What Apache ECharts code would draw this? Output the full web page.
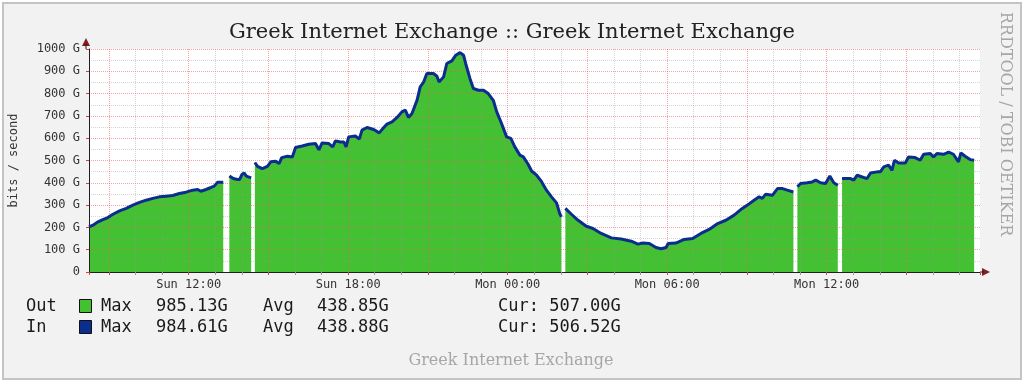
<!DOCTYPE html>
<html>
<head>
<meta charset="utf-8">
<script src="https://cdn.jsdelivr.net/npm/echarts@6/dist/echarts.min.js"></script>
<style>
  html, body { margin: 0; padding: 0; background: #ffffff; }
  #chart { width: 1024px; height: 384px; }
</style>
</head>
<body>
<div id="chart"></div>
<script>
// ---- data (hours since Sun 00:00, values in G bits/s; null = no data) ----
const times = [
  8.25, 8.40, 8.59, 8.77, 8.96, 9.15, 9.40, 9.65, 9.90, 10.15, 10.40, 10.65, 10.90, 11.15, 11.40, 11.65, 11.90, 12.15, 12.34, 12.46, 12.65, 12.84, 12.96, 13.09, 13.30,
  13.40,
  13.53, 13.68, 13.84, 13.92, 14.00, 14.09, 14.17, 14.35,
  14.43,
  14.49, 14.59, 14.77, 14.96, 15.09, 15.27, 15.40, 15.50, 15.71, 15.90, 16.02, 16.27, 16.52, 16.77, 16.90, 17.02, 17.27, 17.42, 17.52, 17.71, 17.84, 17.92,
  18.02, 18.27, 18.42, 18.52, 18.71, 18.96, 19.17, 19.34, 19.46, 19.65, 19.84, 20.02, 20.15, 20.27, 20.40, 20.59, 20.71, 20.84, 20.96, 21.21, 21.34, 21.42,
  21.59, 21.71, 21.90, 22.05, 22.21, 22.34, 22.42, 22.58, 22.71, 22.90, 23.09, 23.27, 23.46, 23.59, 23.77, 23.96, 24.12, 24.27, 24.46, 24.59, 24.77, 24.90,
  25.09, 25.27, 25.46, 25.65, 25.84, 25.96, 26.02,
  26.09,
  26.17, 26.40, 26.65, 26.96, 27.21, 27.52, 27.90, 28.27, 28.65, 28.90, 29.09, 29.33, 29.58, 29.77, 29.96, 30.04, 30.33, 30.64, 30.96, 31.27, 31.58, 31.90,
  32.21, 32.52, 32.77, 33.02, 33.27, 33.46, 33.58, 33.71, 33.96, 34.15, 34.34, 34.52, 34.75,
  34.82,
  34.90, 35.02, 35.27, 35.46, 35.59, 35.77, 35.96, 36.12, 36.27, 36.42,
  36.50,
  36.58, 36.90, 37.02, 37.15, 37.34, 37.52, 37.65, 37.90, 38.02, 38.15, 38.33, 38.46, 38.55, 38.71, 38.96, 39.08, 39.33, 39.52, 39.65, 39.90, 40.02, 40.15,
  40.40, 40.59, 40.77, 40.96, 41.05, 41.21, 41.40, 41.55
];
const outValues = [
  202, 210, 225, 235, 244, 259, 274, 285, 300, 312, 322, 330, 337, 340, 343, 352, 358, 367, 370, 362, 370, 379, 385, 403, 403,
  null,
  431, 419, 415, 415, 437, 444, 430, 422,
  null,
  491, 474, 464, 474, 494, 497, 486, 513, 519, 516, 558, 565, 573, 576, 548, 579, 576, 561, 588, 583, 583, 561,
  606, 610, 596, 636, 648, 639, 624, 648, 663, 673, 693, 718, 726, 693, 711, 770, 830, 852, 890, 890, 878, 852,
  875, 935, 947, 972, 985, 972, 935, 868, 823, 815, 815, 800, 770, 718, 666, 606, 599, 561, 524, 516, 483, 453,
  434, 406, 367, 337, 310, 262, 247,
  null,
  285, 259, 232, 205, 195, 173, 153, 148, 138, 125, 130, 128, 110, 104, 110, 128, 130, 146, 150, 173, 191, 217,
  232, 255, 280, 300, 322, 337, 330, 349, 344, 374, 374, 367, 359,
  null,
  382, 397, 400, 404, 412, 400, 397, 430, 400, 389,
  null,
  419, 419, 412, 434, 426, 419, 444, 449, 449, 471, 479, 456, 501, 489, 489, 516, 513, 501, 528, 531, 516, 531,
  528, 538, 528, 494, 534, 519, 504, 501
];
const inValues = [
  202, 210, 225, 235, 244, 259, 274, 285, 300, 312, 322, 330, 337, 340, 343, 352, 358, 367, 370, 362, 370, 379, 385, 403, 403,
  null,
  431, 419, 415, 415, 437, 444, 430, 422,
  null,
  491, 474, 464, 474, 494, 497, 486, 513, 519, 516, 558, 565, 573, 576, 548, 579, 576, 561, 588, 583, 583, 561,
  606, 610, 596, 636, 648, 639, 624, 648, 663, 673, 693, 718, 726, 693, 711, 770, 830, 852, 890, 890, 878, 852,
  875, 935, 947, 972, 984, 972, 935, 868, 823, 815, 815, 800, 770, 718, 666, 606, 599, 561, 524, 516, 483, 453,
  434, 406, 367, 337, 310, 262, 247,
  null,
  285, 259, 232, 205, 195, 173, 153, 148, 138, 125, 130, 128, 110, 104, 110, 128, 130, 146, 150, 173, 191, 217,
  232, 255, 280, 300, 322, 337, 330, 349, 344, 374, 374, 367, 359,
  null,
  382, 397, 400, 404, 412, 400, 397, 430, 400, 389,
  null,
  419, 419, 412, 434, 426, 419, 444, 449, 449, 471, 479, 456, 501, 489, 489, 516, 513, 501, 528, 531, 516, 531,
  528, 538, 528, 494, 534, 519, 504, 501
];
const xLabelHours = [12, 18, 24, 30, 36];
const xLabelTexts = ['Sun 12:00', 'Sun 18:00', 'Mon 00:00', 'Mon 06:00', 'Mon 12:00'];
const seriesNames = ['Out', 'In'];
const maxStats = ['985.13G', '984.61G'];
const avgStats = ['438.85G', '438.88G'];
const curStats = ['507.00G', '506.52G'];

const X_MIN = 8.25, X_MAX = 41.77;
const GREEN = '#44c133', BLUE = '#0b2e8e';
const MGRID = 'rgba(235,90,90,0.55)', GRID = 'rgba(150,150,150,0.4)';
const MONO = 'DejaVu Sans Mono';
const SERIF = 'DejaVu Serif';

const outData = times.map((t, i) => [t, outValues[i]]);
const inData = times.map((t, i) => [t, inValues[i]]);

const chart = echarts.init(document.getElementById('chart'), null, { renderer: 'canvas' });

const legendGraphics = [];
seriesNames.forEach((name, i) => {
  const y = 307 + i * 21;
  const style = { font: '17px "' + MONO + '"', fill: '#1a1a1a', textVerticalAlign: 'middle' };
  legendGraphics.push({ type: 'text', left: 26, top: y - 9, style: Object.assign({ text: name }, style) });
  legendGraphics.push({ type: 'rect', shape: { x: 79.5, y: y - 7.5, width: 12, height: 13 },
    style: { fill: i === 0 ? GREEN : BLUE, stroke: '#111', lineWidth: 1 } });
  legendGraphics.push({ type: 'text', left: 101, top: y - 9, style: Object.assign({ text: 'Max' }, style) });
  legendGraphics.push({ type: 'text', left: 156, top: y - 9, style: Object.assign({ text: maxStats[i] }, style) });
  legendGraphics.push({ type: 'text', left: 263, top: y - 9, style: Object.assign({ text: 'Avg' }, style) });
  legendGraphics.push({ type: 'text', left: 317, top: y - 9, style: Object.assign({ text: avgStats[i] }, style) });
  legendGraphics.push({ type: 'text', left: 498, top: y - 9, style: Object.assign({ text: 'Cur: ' + curStats[i] }, style) });
});

const option = {
  animation: false,
  backgroundColor: '#ffffff',
  title: {
    text: 'Greek Internet Exchange :: Greek Internet Exchange',
    left: 'center',
    top: 17,
    textStyle: { fontFamily: SERIF, fontSize: 21, fontWeight: 'normal', color: '#222' }
  },
  graphic: [
    { type: 'rect', z: -10, shape: { x: 3, y: 3, width: 1018, height: 376 },
      style: { fill: '#f2f2f2', stroke: '#c4c4c4', lineWidth: 2 } },
    { type: 'text', z: 10, style: { x: 511, y: 361, text: 'Greek Internet Exchange', textAlign: 'center',
      textVerticalAlign: 'middle', font: '16px "' + SERIF + '"', fill: '#a6a6a6' } },
    { type: 'text', z: 10, x: 1005, y: 124, rotation: -Math.PI / 2,
      style: { x: 0, y: 0, text: 'RRDTOOL / TOBI OETIKER', textAlign: 'center', textVerticalAlign: 'middle',
      font: '16px "' + SERIF + '"', fill: '#a6a6a6' } },
    // axis arrows
    { type: 'polygon', z: 20, shape: { points: [[82, 46], [90, 46], [86, 38]] }, style: { fill: '#801f1f' } },
    { type: 'line', z: 20, shape: { x1: 86, y1: 49, x2: 86, y2: 44 }, style: { stroke: '#1f1f1f', lineWidth: 1 } },
    { type: 'polygon', z: 20, shape: { points: [[982, 268], [982, 276], [990, 272]] }, style: { fill: '#801f1f' } },
    { type: 'line', z: 20, shape: { x1: 980, y1: 272, x2: 984, y2: 272 }, style: { stroke: '#1f1f1f', lineWidth: 1 } }
  ].concat(legendGraphics),
  grid: {
    left: 86, top: 49, width: 894, height: 223,
    show: true, backgroundColor: '#ffffff', borderWidth: 0
  },
  xAxis: {
    type: 'value', min: X_MIN, max: X_MAX,
    minInterval: 3, maxInterval: 3, splitNumber: 11,
    zlevel: 1, z: 10,
    axisLine: { show: true, lineStyle: { color: '#1f1f1f', width: 1 } },
    axisTick: { show: true, length: 3, inside: false, lineStyle: { color: '#cc4444' } },
    minorTick: { show: true, splitNumber: 3, length: 3, lineStyle: { color: '#999' } },
    splitLine: { show: true, showMinLine: false, showMaxLine: false, lineStyle: { color: MGRID, type: [1, 1], width: 1 } },
    minorSplitLine: { show: true, lineStyle: { color: GRID, type: [1, 1], width: 1 } },
    axisLabel: {
      showMinLabel: false, showMaxLabel: false, margin: 7,
      fontFamily: MONO, fontSize: 12, color: '#333',
      formatter: function (v) {
        const idx = xLabelHours.indexOf(Math.round(v * 100) / 100);
        return idx >= 0 ? xLabelTexts[idx] : '';
      }
    }
  },
  yAxis: {
    type: 'value', min: 0, max: 1000, interval: 100,
    zlevel: 1, z: 10,
    name: 'bits / second', nameLocation: 'middle', nameGap: 69, nameRotate: 90,
    nameTextStyle: { fontFamily: MONO, fontSize: 12, color: '#333' },
    axisLine: { show: true, lineStyle: { color: '#1f1f1f', width: 1 } },
    axisTick: { show: true, length: 3, lineStyle: { color: '#cc4444' } },
    splitLine: { show: true, lineStyle: { color: MGRID, type: [1, 1], width: 1 } },
    minorTick: { show: false, splitNumber: 2 },
    minorSplitLine: { show: true, lineStyle: { color: GRID, type: [1, 1], width: 1 } },
    axisLabel: {
      margin: 9, fontFamily: MONO, fontSize: 12, color: '#333',
      formatter: function (v) { return v === 0 ? '0' : v + ' G'; }
    }
  },
  series: [
    {
      name: seriesNames[0], type: 'line', data: outData, z: 1, zlevel: 0,
      showSymbol: false, symbol: 'none', connectNulls: false,
      lineStyle: { width: 0 },
      areaStyle: { color: GREEN, opacity: 1 }
    },
    {
      name: seriesNames[1], type: 'line', data: inData, zlevel: 2,
      showSymbol: false, symbol: 'none', connectNulls: false,
      lineStyle: { width: 3, color: BLUE }
    }
  ]
};
chart.setOption(option);
</script>
</body>
</html>
